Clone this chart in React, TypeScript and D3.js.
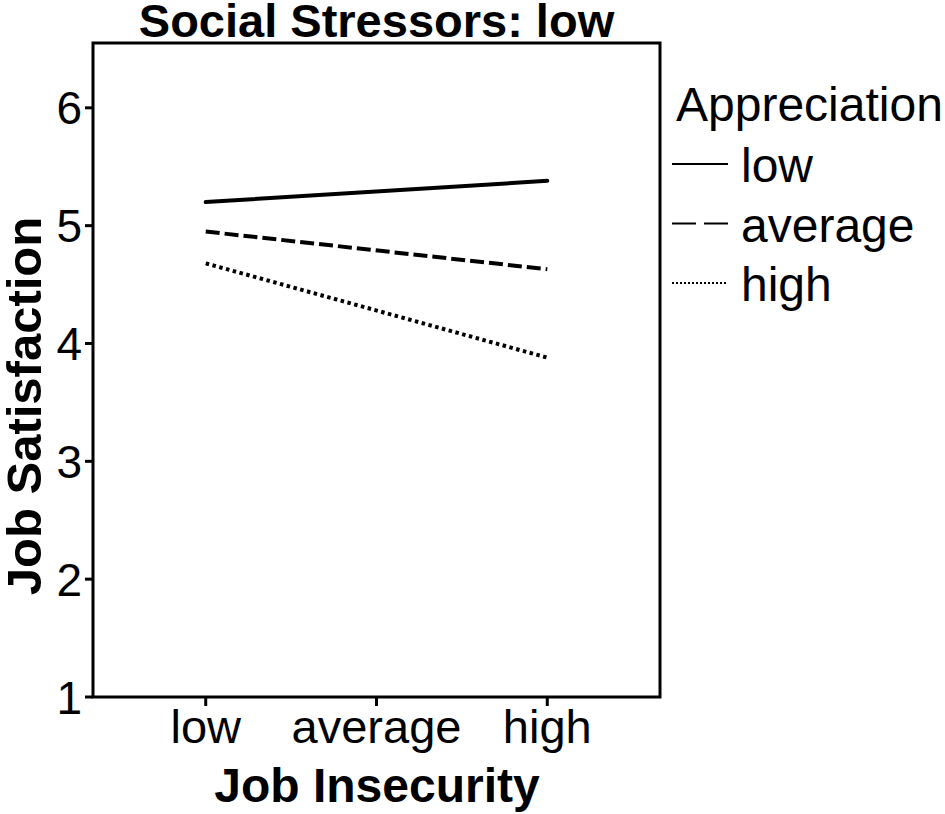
import * as d3 from 'd3';

const jobInsecurity = ['low', 'average', 'high'];
const yTicks = [1, 2, 3, 4, 5, 6];

// simple slopes at low / high job insecurity
const lineX = ['low', 'high'];
const apprLow = [5.2, 5.38];
const apprAverage = [4.95, 4.63];
const apprHigh = [4.68, 3.88];

const legendLabels = ['low', 'average', 'high'];

const W = 945;
const H = 814;
const box = { left: 93, right: 660, top: 43, bottom: 697 };
const font = '"Liberation Sans", Arial, sans-serif';

export default function App() {
  const x = d3
    .scalePoint<string>()
    .domain(jobInsecurity)
    .range([box.left, box.right])
    .padding(0.66);

  const y = d3.scaleLinear().domain([1, 6.55]).range([box.bottom, box.top]);

  const line = d3
    .line<number>()
    .x((_, i) => x(lineX[i])!)
    .y((d) => y(d));

  const series = [
    { values: apprLow, dash: undefined as string | undefined, legendDash: undefined as string | undefined },
    { values: apprAverage, dash: '14,5', legendDash: '24,8' },
    { values: apprHigh, dash: '3.5,3.5', legendDash: '2,2' },
  ];

  return (
    <svg
      width={W}
      height={H}
      viewBox={`0 0 ${W} ${H}`}
      style={{ position: 'absolute', left: 0, top: 0, background: '#fff' }}
      fontFamily={font}
    >
      <text
        x={(box.left + box.right) / 2}
        y={37}
        textAnchor="middle"
        fontSize={47}
        fontWeight="bold"
      >
        Social Stressors: low
      </text>

      <rect
        x={box.left}
        y={box.top}
        width={box.right - box.left}
        height={box.bottom - box.top}
        fill="none"
        stroke="#000"
        strokeWidth={3}
      />

      {yTicks.map((t) => (
        <g key={t}>
          <line x1={box.left - 8} x2={box.left} y1={y(t)} y2={y(t)} stroke="#000" strokeWidth={3} />
          <text x={82} y={y(t)} dy="0.36em" textAnchor="end" fontSize={46}>
            {t}
          </text>
        </g>
      ))}

      {jobInsecurity.map((c) => (
        <g key={c}>
          <line x1={x(c)} x2={x(c)} y1={box.bottom} y2={box.bottom + 9} stroke="#000" strokeWidth={3} />
          <text x={x(c)} y={743} textAnchor="middle" fontSize={47}>
            {c}
          </text>
        </g>
      ))}

      <text x={377} y={802} textAnchor="middle" fontSize={48} fontWeight="bold">
        Job Insecurity
      </text>
      <text
        transform="translate(41,406) rotate(-90)"
        textAnchor="middle"
        fontSize={49}
        fontWeight="bold"
      >
        Job Satisfaction
      </text>

      {series.map((s, i) => (
        <path
          key={i}
          d={line(s.values) ?? ''}
          fill="none"
          stroke="#000"
          strokeWidth={4}
          strokeDasharray={s.dash}
          strokeLinecap={i === 0 ? 'round' : 'butt'}
        />
      ))}

      <text x={676} y={121} fontSize={48}>
        Appreciation
      </text>
      {legendLabels.map((lab, i) => {
        const ly = 164 + i * 59.5;
        return (
          <g key={lab}>
            <line
              x1={672}
              x2={728}
              y1={ly}
              y2={ly}
              stroke="#000"
              strokeWidth={2}
              strokeDasharray={series[i].legendDash}
            />
            <text x={741} y={ly + 18} fontSize={48}>
              {lab}
            </text>
          </g>
        );
      })}
    </svg>
  );
}
